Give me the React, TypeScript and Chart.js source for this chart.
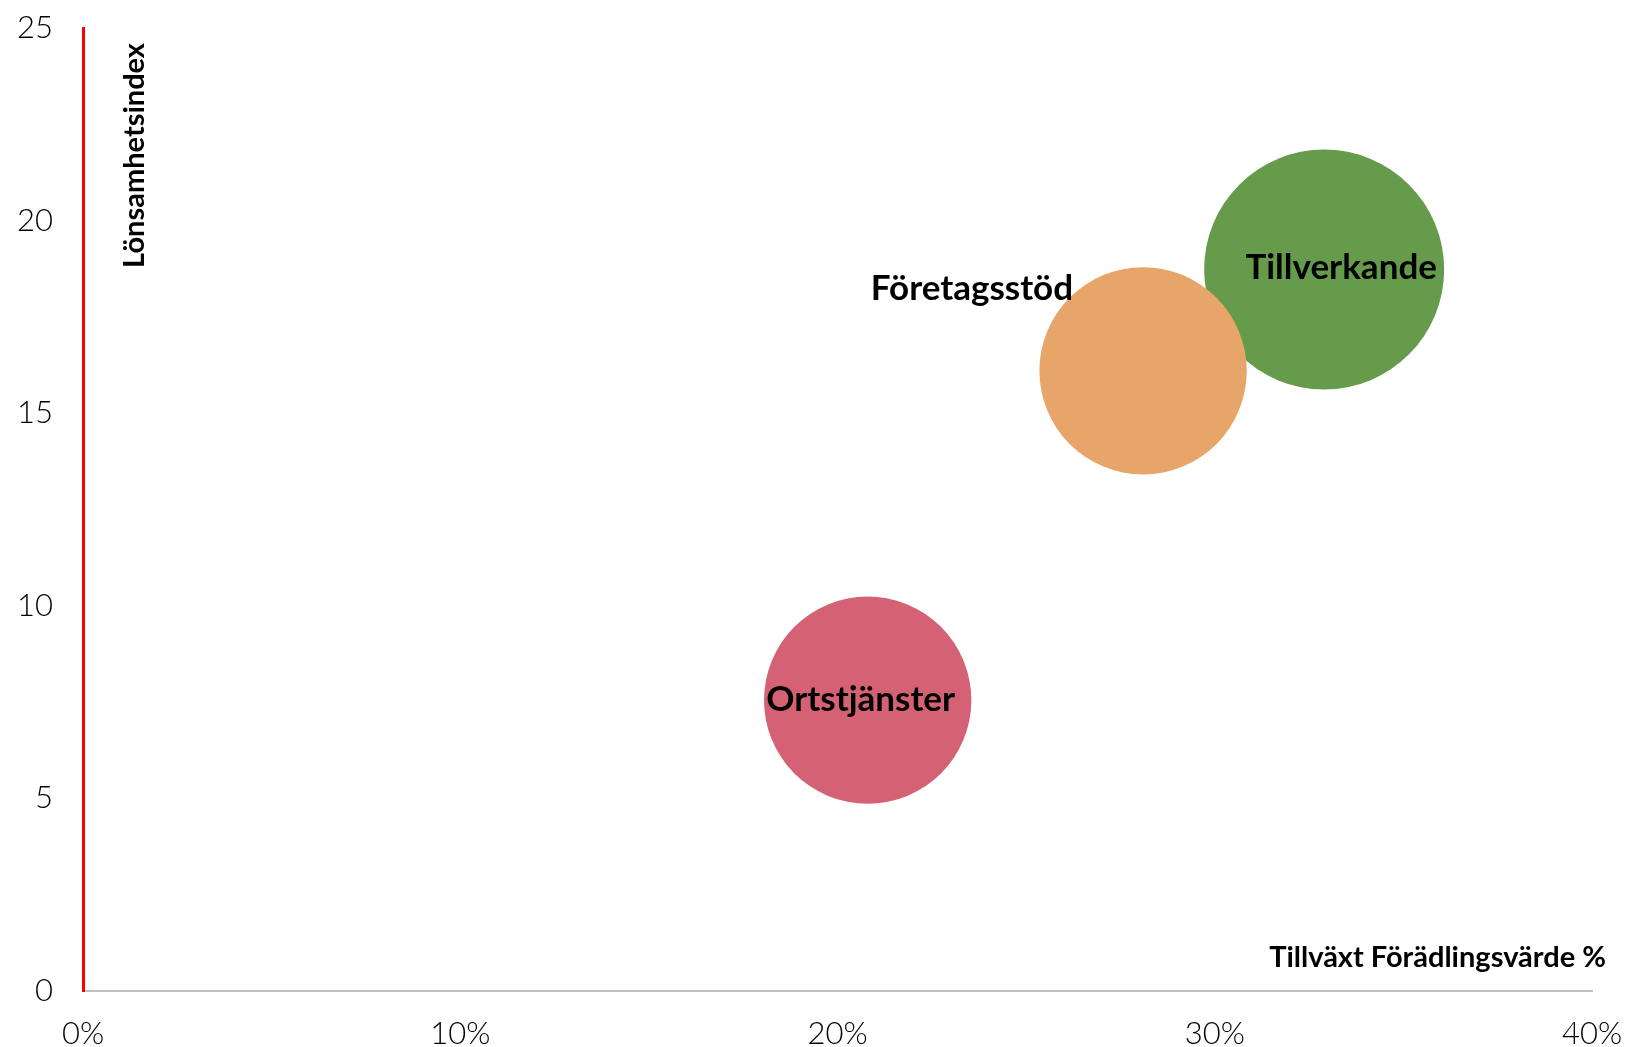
import React, { useEffect, useRef } from "react";
import { Chart, registerables } from "chart.js";

Chart.register(...registerables);

// ---- Data ----
const categories = ["Ortstjänster", "Företagsstöd", "Tillverkande"];
const growthPct = [20.8, 28.1, 32.9]; // Tillväxt Förädlingsvärde %
const profitIndex = [7.55, 16.1, 18.73]; // Lönsamhetsindex
const bubbleSize = [100, 100, 134]; // relative bubble size (area)
const xTicks = [0, 10, 20, 30, 40];
const yTicks = [0, 5, 10, 15, 20, 25];

const xTitle = "Tillväxt Förädlingsvärde %";
const yTitle = "Lönsamhetsindex";

// ---- Style ----
const colors = ["#D46174", "#E8A569", "#659B4A"];
const MAX_R = 120;
const labelFont = "bold 35px Lato";
const titleFont = "bold 29px Lato";
const labelOffsets = [
  { dx: -7, dy: 0, align: "center" },
  { dx: -70, dy: -82, align: "right" },
  { dx: 17, dy: -2, align: "center" },
];

const labelPlugin = {
  id: "bubbleLabels",
  afterDatasetsDraw(chart: any) {
    const ctx = chart.ctx;
    ctx.save();
    ctx.fillStyle = "#000";
    ctx.font = labelFont;
    ctx.textBaseline = "middle";
    chart.data.datasets.forEach((ds: any, i: number) => {
      const meta = chart.getDatasetMeta(i);
      meta.data.forEach((el: any) => {
        const off = labelOffsets[i];
        ctx.textAlign = off.align;
        ctx.fillText(ds.label, el.x + off.dx, el.y + off.dy);
      });
    });
    ctx.restore();
  },
  afterDraw(chart: any) {
    const ctx = chart.ctx;
    const area = chart.chartArea;
    ctx.save();
    ctx.fillStyle = "#000";
    ctx.font = titleFont;
    // x-axis title, right-aligned inside plot
    ctx.textAlign = "right";
    ctx.textBaseline = "alphabetic";
    ctx.fillText(xTitle, area.right + 14, area.bottom - 24);
    // y-axis title, rotated
    ctx.translate(area.left + 61, area.top + 15);
    ctx.rotate(-Math.PI / 2);
    ctx.textAlign = "right";
    ctx.textBaseline = "alphabetic";
    ctx.fillText(yTitle, 0, 0);
    ctx.restore();
  },
};

const noPad = (s: any) => {
  s.paddingTop = 0;
  s.paddingBottom = 0;
  s.paddingLeft = 0;
  s.paddingRight = 0;
};

export default function App() {
  const ref = useRef<HTMLCanvasElement | null>(null);

  useEffect(() => {
    document.body.style.margin = "0";
    const maxSize = Math.max(...bubbleSize);
    const datasets = categories.map((name, i) => ({
      label: name,
      data: [
        {
          x: growthPct[i],
          y: profitIndex[i],
          r: MAX_R * Math.sqrt(bubbleSize[i] / maxSize),
        },
      ],
      backgroundColor: colors[i],
      borderColor: colors[i],
      borderWidth: 0,
      clip: false,
    }));

    const chart = new Chart(ref.current as HTMLCanvasElement, {
      type: "bubble",
      data: { datasets },
      options: {
        responsive: false,
        animation: false,
        devicePixelRatio: 1,
        layout: {
          autoPadding: false,
          padding: { left: 0, right: 40, top: 28, bottom: 0 },
        },
        plugins: {
          legend: { display: false },
          tooltip: { enabled: false },
        },
        scales: {
          x: {
            type: "linear",
            min: xTicks[0],
            max: xTicks[xTicks.length - 1],
            afterBuildTicks: (s: any) => {
              s.ticks = xTicks.map((v) => ({ value: v }));
            },
            afterFit: (s: any) => {
              s.height = 56;
              noPad(s);
            },
            grid: { display: false, drawTicks: false },
            border: { display: true, color: "#BFBFBF", width: 2 },
            ticks: {
              padding: 24,
              color: "#000",
              font: { family: "Lato", size: 31, weight: "300" },
              callback: (v: any) => v + "%",
              maxRotation: 0,
            },
          },
          y: {
            type: "linear",
            min: yTicks[0],
            max: yTicks[yTicks.length - 1],
            afterBuildTicks: (s: any) => {
              s.ticks = yTicks.map((v) => ({ value: v }));
            },
            afterFit: (s: any) => {
              s.width = 83;
              noPad(s);
            },
            grid: { display: false, drawTicks: false },
            border: { display: true, color: "#FF0000", width: 3 },
            ticks: {
              padding: 30,
              color: "#000",
              font: { family: "Lato", size: 31, weight: "300" },
            },
          },
        },
      },
      plugins: [labelPlugin],
    } as any);
    return () => chart.destroy();
  }, []);

  return (
    <div style={{ width: 1632, height: 1047, overflow: "hidden", background: "#fff" }}>
      <canvas ref={ref} width={1632} height={1047} style={{ display: "block" }} />
    </div>
  );
}
